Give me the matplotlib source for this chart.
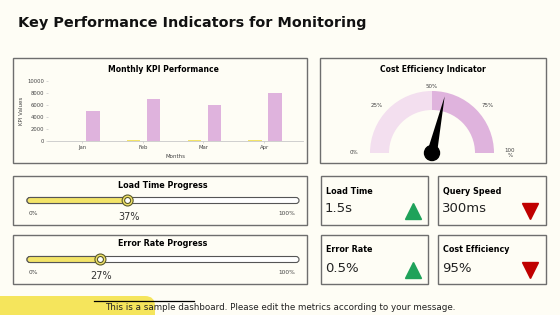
import numpy as np
import matplotlib
matplotlib.use("Agg")
import matplotlib.pyplot as plt
from matplotlib.patches import Rectangle, Wedge, Circle, FancyBboxPatch, Polygon

# data
months = ["Jan", "Feb", "Mar", "Apr"]
kpi_small = [80, 120, 110, 150]          # yellow series (barely visible)
kpi_values = [5000, 7000, 6000, 8000]    # pink series
gauge_value = 57                          # cost efficiency gauge, %
gauge_ticks = [0, 25, 50, 75, 100]
load_progress = 37
error_progress = 27
card_titles = ["Load Time", "Query Speed", "Error Rate", "Cost Efficiency"]
card_values = ["1.5s", "300ms", "0.5%", "95%"]
card_up = [True, False, True, False]

bg = "#FEFDF5"
border = "#6E6E6E"
yellow = "#F3E468"
pink = "#DFB3DD"
light_pink = "#F3DFEF"

W, H = 560, 315
fig = plt.figure(figsize=(5.6, 3.15), dpi=100, facecolor=bg)

# overlay axes in pixel coordinates (y measured from top)
ov = fig.add_axes([0, 0, 1, 1])
ov.set_xlim(0, W)
ov.set_ylim(H, 0)
ov.axis("off")
ov.set_facecolor(bg)

def box(x0, y0, x1, y1):
    ov.add_patch(Rectangle((x0, y0), x1 - x0, y1 - y0, fill=False,
                           edgecolor=border, lw=1))

# title
ov.text(18, 23, "Key Performance Indicators for Monitoring", fontsize=10.4,
        fontweight="bold", va="center", ha="left", color="#111111")

# panels
box(13, 58, 307, 163)
box(320, 58, 546, 163)
box(13, 176, 307, 225)
box(13, 235, 307, 284)
box(321, 176, 428, 225)
box(438, 176, 546, 225)
box(321, 235, 428, 284)
box(438, 235, 546, 284)

# ---- bar chart
ov.text(163, 70, "Monthly KPI Performance", fontsize=5.5, fontweight="bold",
        ha="center", va="center")
ax = fig.add_axes([48 / W, 1 - 141 / H, (303 - 48) / W, 60 / H])
ax.patch.set_alpha(0)
x = np.arange(len(months))
ax.bar(x - 0.15, kpi_small, 0.22, color=yellow)
ax.bar(x + 0.18, kpi_values, 0.22, color=pink)
ax.set_xlim(-0.56, 3.64)
ax.set_ylim(0, 10000)
ax.set_yticks([0, 2000, 4000, 6000, 8000, 10000])
ax.set_xticks(x)
ax.set_xticklabels(months)
for s in ["top", "right", "left"]:
    ax.spines[s].set_visible(False)
ax.spines["bottom"].set_color("#C8C8C8")
ax.spines["bottom"].set_linewidth(0.6)
ax.tick_params(axis="both", labelsize=3.8, colors="#444444", length=1.5,
               width=0.5, pad=1.5)
ax.tick_params(axis="y", color="#C8C8C8")
ax.tick_params(axis="x", color="#C8C8C8")
ax.set_xlabel("Months", fontsize=4, color="#444444", labelpad=3)
ax.set_ylabel("KPI Values", fontsize=4, color="#444444", labelpad=2)

# ---- gauge
ov.text(433, 70, "Cost Efficiency Indicator", fontsize=5.5, fontweight="bold",
        ha="center", va="center")
gx, gy = 432, 153
r_out, r_w = 62, 19
# wedges in flipped-y axes: angles mirror, so top half is 180..360
ov.add_patch(Wedge((gx, gy), r_out, 180, 270, width=r_w, color=light_pink, lw=0))
ov.add_patch(Wedge((gx, gy), r_out, 270, 360, width=r_w, color=pink, lw=0))
for t in gauge_ticks:
    a = np.pi * (1 - t / 100)
    lx = gx + 78 * np.cos(a)
    ly = gy - 67 * np.sin(a)
    txt = f"{t}%" if t < 100 else "100\n%"
    ov.text(lx, ly, txt, fontsize=4, color="#444444", ha="center", va="center")
a = np.pi * (1 - gauge_value / 100)
tip = (gx + 58 * np.cos(a), gy - 58 * np.sin(a))
pa = a + np.pi / 2
hw = 5
ov.add_patch(Polygon([(gx + hw * np.cos(pa), gy - hw * np.sin(pa)), tip,
                      (gx - hw * np.cos(pa), gy + hw * np.sin(pa))],
                     closed=True, color="black", lw=0))
ov.add_patch(Circle((gx, gy), 7.5, color="black"))

# ---- progress bars
def progress(y_top, title, value):
    ov.text(163, y_top + 9, title, fontsize=5.8, fontweight="bold",
            ha="center", va="center")
    x0, x1 = 27, 299
    yc = y_top + 24.5
    h = 6
    ov.add_patch(FancyBboxPatch((x0, yc - h / 2), x1 - x0, h,
                                boxstyle="round,pad=0,rounding_size=3",
                                fc="white", ec="#555555", lw=0.8))
    xv = x0 + (x1 - x0) * value / 100
    ov.add_patch(FancyBboxPatch((x0, yc - h / 2), xv - x0, h,
                                boxstyle="round,pad=0,rounding_size=3",
                                fc=yellow, ec="#555555", lw=0.8))
    ov.add_patch(Circle((xv, yc), 5.5, fc=yellow, ec="#5A5A2A", lw=0.8))
    ov.add_patch(Circle((xv, yc), 3, fc="white", ec="#5A5A2A", lw=0.8))
    ov.text(33, yc + 13, "0%", fontsize=4.2, color="#444444", ha="center",
            va="center")
    ov.text(287, yc + 13, "100%", fontsize=4.2, color="#444444", ha="center",
            va="center")
    ov.text(xv + 1, yc + 16.5, f"{value}%", fontsize=7, color="#333333",
            ha="center", va="center")

progress(176, "Load Time Progress", load_progress)
progress(235, "Error Rate Progress", error_progress)

# ---- KPI cards
card_pos = [(321, 176), (438, 176), (321, 235), (438, 235)]
for (cx, cy), t, v, up in zip(card_pos, card_titles, card_values, card_up):
    ov.text(cx + 5, cy + 15, t, fontsize=5.8, fontweight="bold",
            ha="left", va="center")
    ov.text(cx + 4, cy + 33, v, fontsize=9.5, color="#222222",
            ha="left", va="center")
    ov.plot(cx + 92, cy + 35, marker="^" if up else "v", markersize=11,
            color="#1FA25A" if up else "#C00000", linestyle="none")

# ---- footer
ov.add_patch(FancyBboxPatch((-30, 296), 185, 40,
                            boxstyle="round,pad=0,rounding_size=10",
                            fc="#F5E55C", ec="none"))
ov.plot([94, 194], [300.5, 300.5], color="black", lw=0.9)
ov.text(280, 308, "This is a sample dashboard. Please edit the metrics "
        "according to your message.", fontsize=6.3, color="#222222",
        ha="center", va="center")

fig.savefig("out.png", dpi=100, facecolor=bg)
